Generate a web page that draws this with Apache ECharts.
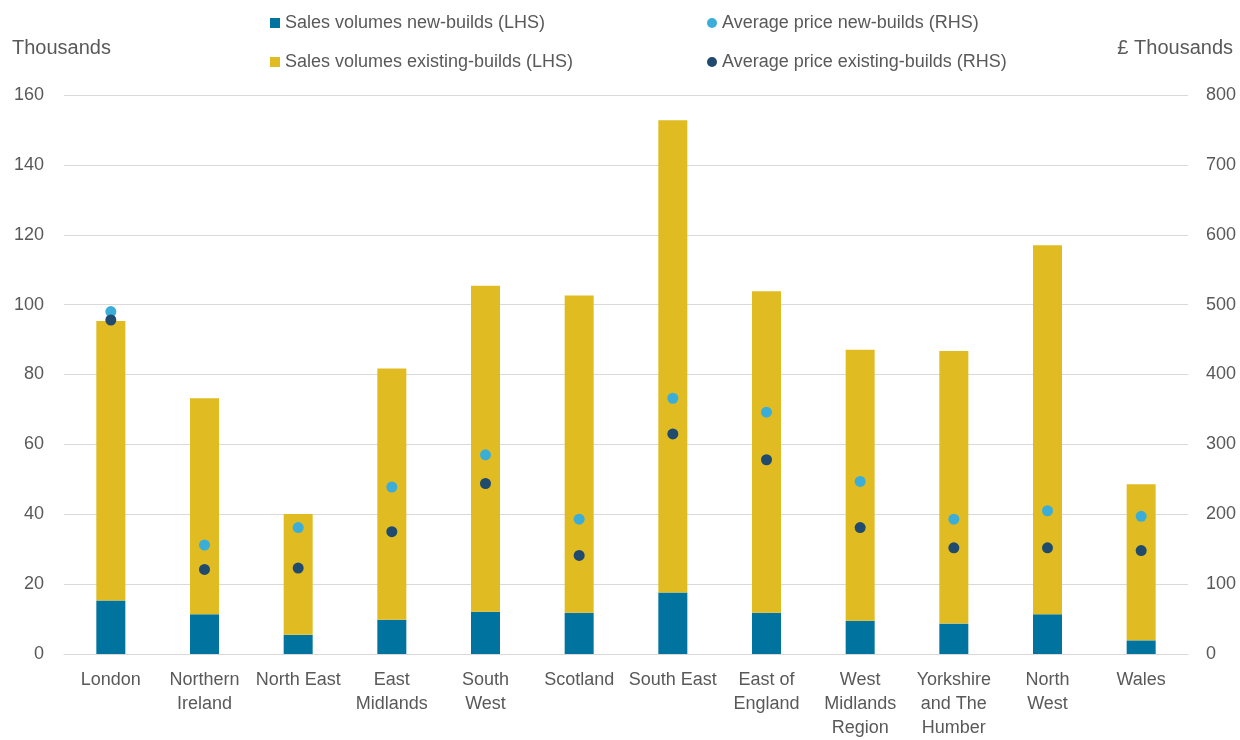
<!DOCTYPE html>
<html>
<head>
<meta charset="utf-8">
<script src="https://cdn.jsdelivr.net/npm/echarts@6/dist/echarts.min.js"></script>
<style>html,body{margin:0;padding:0;background:#fff}#c{width:1240px;height:740px}</style>
</head>
<body>
<div id="c"></div>
<script>
const categories = ["London", "Northern\nIreland", "North East", "East\nMidlands", "South\nWest", "Scotland", "South East", "East of\nEngland", "West\nMidlands\nRegion", "Yorkshire\nand The\nHumber", "North\nWest", "Wales"];
const salesNew = [15.3, 11.4, 5.5, 9.8, 12.1, 11.8, 17.6, 11.8, 9.5, 8.7, 11.4, 3.9];
const salesTotal = [95.3, 73.2, 40.1, 81.7, 105.4, 102.6, 152.8, 103.8, 87.1, 86.7, 117.0, 48.6];
const salesExisting = salesTotal.map((t, i) => +(t - salesNew[i]).toFixed(1));
const priceNew = [490, 156, 181, 239, 285, 193, 366, 346, 247, 193, 205, 197];
const priceExisting = [478, 121, 123, 175, 244, 141, 315, 278, 181, 152, 152, 148];
const leftTicks = [0, 160, 20];
const rightTicks = [0, 800, 100];

const names = ["Sales volumes new-builds (LHS)", "Sales volumes existing-builds (LHS)", "Average price new-builds (RHS)", "Average price existing-builds (RHS)"];
const font = "'Liberation Sans', Arial, sans-serif";
const txt = "#595959";
const chart = echarts.init(document.getElementById('c'), null, {renderer: 'canvas'});
chart.setOption({
  animation: false,
  textStyle: {fontFamily: font},
  grid: {left: 64, right: 52, top: 95, bottom: 86},
  legend: [
    {left: 270, top: 14, orient: 'vertical', itemGap: 21, itemWidth: 10, itemHeight: 10, padding: 0,
     textStyle: {fontFamily: font, fontSize: 18, color: txt},
     data: [{name: names[0], icon: 'rect'}, {name: names[1], icon: 'rect'}]},
    {left: 707, top: 14, orient: 'vertical', itemGap: 21, itemWidth: 10, itemHeight: 10, padding: 0,
     textStyle: {fontFamily: font, fontSize: 18, color: txt},
     data: [{name: names[2], icon: 'circle'}, {name: names[3], icon: 'circle'}]}
  ],
  graphic: [
    {type: 'text', left: 12, top: 38, style: {text: 'Thousands', font: '20px ' + font, fill: txt}},
    {type: 'text', right: 7, top: 38, style: {text: '£ Thousands', font: '20px ' + font, fill: txt}}
  ],
  xAxis: {
    type: 'category', data: categories,
    axisLine: {lineStyle: {color: '#d9d9d9', width: 1}},
    axisTick: {show: false},
    axisLabel: {color: txt, fontSize: 18, lineHeight: 24, margin: 14, interval: 0, fontFamily: font}
  },
  yAxis: [
    {type: 'value', min: leftTicks[0], max: leftTicks[1], interval: leftTicks[2],
     axisLine: {show: false}, axisTick: {show: false},
     axisLabel: {color: txt, fontSize: 18, margin: 20, fontFamily: font},
     splitLine: {lineStyle: {color: '#d9d9d9', width: 1}}},
    {type: 'value', min: rightTicks[0], max: rightTicks[1], interval: rightTicks[2], position: 'right',
     axisLine: {show: false}, axisTick: {show: false},
     axisLabel: {color: txt, fontSize: 18, margin: 18, fontFamily: font},
     splitLine: {show: false}}
  ],
  series: [
    {name: names[0], type: 'bar', stack: 'vol', barWidth: 29, data: salesNew, itemStyle: {color: '#00749f'}},
    {name: names[1], type: 'bar', stack: 'vol', barWidth: 29, data: salesExisting, itemStyle: {color: '#e1bb22'}},
    {name: names[2], type: 'scatter', yAxisIndex: 1, symbolSize: 11, data: priceNew, itemStyle: {color: '#3aaed8', opacity: 1}, z: 5},
    {name: names[3], type: 'scatter', yAxisIndex: 1, symbolSize: 11, data: priceExisting, itemStyle: {color: '#204a6e', opacity: 1}, z: 6}
  ]
});
</script>
</body>
</html>
